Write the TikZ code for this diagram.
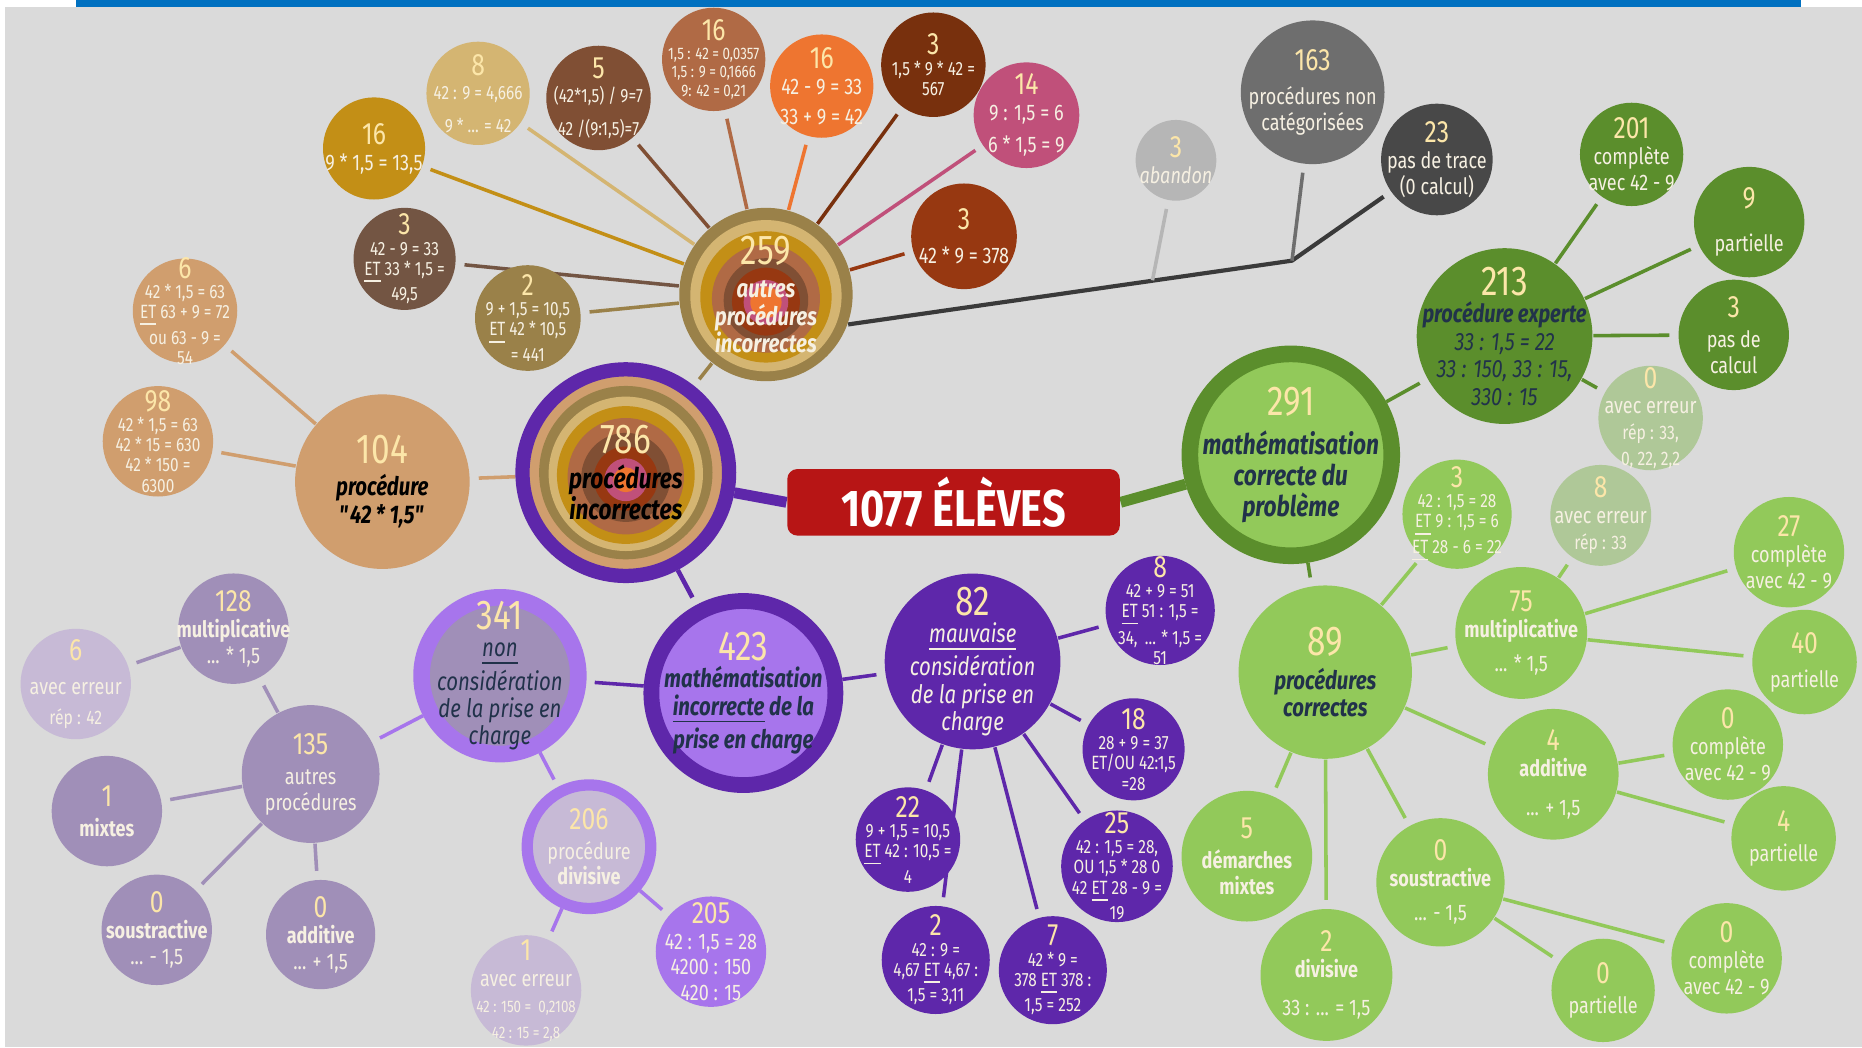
\documentclass[tikz,border=0pt]{standalone}
\usepackage{fontspec}
\setmainfont{Fira Sans}[FakeStretch=0.8]
\usetikzlibrary{backgrounds}

\definecolor{bgc}{HTML}{DADADA}
\definecolor{barc}{HTML}{0070C0}
\definecolor{nbc}{HTML}{FCE6A9}
\definecolor{txc}{HTML}{F6F0E2}
\definecolor{navy}{HTML}{21324A}
\definecolor{pgold}{HTML}{C38F16}
\definecolor{plt}{HTML}{D4B572}
\definecolor{pbr5}{HTML}{804F34}
\definecolor{pbrB}{HTML}{B06A45}
\definecolor{porange}{HTML}{EE7530}
\definecolor{pdrust}{HTML}{78300D}
\definecolor{ppink}{HTML}{C0507A}
\definecolor{prust}{HTML}{973811}
\definecolor{pgb}{HTML}{735543}
\definecolor{polive}{HTML}{9A8149}
\definecolor{ptan}{HTML}{D09E6E}
\definecolor{redbox}{HTML}{B71515}
\definecolor{gdark}{HTML}{5B8E2C}
\definecolor{glight}{HTML}{92C95A}
\definecolor{gpale}{HTML}{AFC898}
\definecolor{pudark}{HTML}{5E27AA}
\definecolor{pulight}{HTML}{A775EC}
\definecolor{pugrey}{HTML}{A08FB8}
\definecolor{pupale}{HTML}{C7BAD6}
\definecolor{g163}{HTML}{6E6E6E}
\definecolor{g23}{HTML}{484848}
\definecolor{gab}{HTML}{B6B6B6}
\definecolor{gline}{HTML}{3A3A3A}

\newcommand\nbig[1]{{\normalfont\color{nbc}\fontsize{10}{11}\selectfont #1}}
\newcommand\nsm[1]{{\normalfont\color{nbc}\fontsize{7.4}{8}\selectfont #1}}
\newcommand\smr{\fontsize{4.7}{5.1}\selectfont}
\newcommand\tnr{\fontsize{4}{4.5}\selectfont}

\tikzset{
  bub/.style 2 args={circle,fill=#1,minimum size=#2,inner sep=0pt},
  txt/.style 2 args={label={[align=center,text=txc,inner sep=0pt,fill=none,draw=none,#1]center:{#2}}},
  rings/.style={path picture={\foreach \rad/\col/\dy in {#1}
      {\fill[\col] ([yshift=-\dy]path picture bounding box.center) circle (\rad);}}},
  box/.style={rectangle,rounded corners=2.4pt,fill=redbox,minimum width=28mm,
      minimum height=5.6mm,inner sep=0pt,text=white,font=\bfseries\fontsize{12.4}{12.4}\selectfont},
  link/.style={draw=#1,line width=0.85pt,shorten >=2pt},
  fat/.style={draw=#1,line width=2.6pt},
  ta/.style={font=\fontsize{5.4}{6.2}\selectfont},
  tb/.style={font=\fontsize{4.6}{4.85}\selectfont},
  tc/.style={font=\fontsize{4}{4.4}\selectfont},
  labA/.style={font=\bfseries\itshape\fontsize{6.8}{7.4}\selectfont},
  labB/.style={font=\bfseries\itshape\fontsize{6.1}{6.6}\selectfont},
  labI/.style={font=\itshape\fontsize{6.1}{6.5}\selectfont},
  labE/.style={font=\itshape\fontsize{6}{6.6}\selectfont}
}

\begin{document}
\begin{tikzpicture}[x=0.1mm,y=-0.1mm]
  % — cadre
  \begin{scope}[on background layer]
    \fill[white] (0,0) rectangle (1568,882);
    \fill[bgc]   (4,6) rectangle (1568,882);
    \fill[barc]  (64,0) rectangle (1517,5.5);
  \end{scope}
  \useasboundingbox (0,0) rectangle (1568,882);

  % — centre
  \node[box] (tot) at (803,423) {1077 ÉLÈVES};

  % — procédures incorrectes
  \node[bub={ptan}{17.4mm},draw=pudark,line width=1.2mm,
        rings={7.3mm/polive/0mm, 6.5mm/plt/0.1mm, 5.8mm/pgold/0.2mm, 4.9mm/pbrB/0.3mm,
               3.75mm/pbr5/0.4mm, 2.7mm/prust/0.5mm, 1.8mm/ppink/0.6mm, 1.05mm/porange/0.6mm},
        txt={labA,text=black}{\nbig{786}\\[1pt]procédures\\incorrectes}] (inc) at (527,398) {};
  \node[bub={polive}{14.6mm},
        rings={6.37mm/plt/0.1mm, 5.53mm/pgold/0.2mm, 4.55mm/pbrB/0.35mm, 3.56mm/pbr5/0.5mm,
               2.86mm/prust/0.6mm, 1.88mm/ppink/0.65mm, 1.32mm/porange/0.65mm},
        txt={labB}{\nbig{259}\\[1.5pt]autres\\procédures\\incorrectes}] (aut) at (645,248) {};

  % — autres procédures incorrectes : détail
  \node[bub={pgold}{8.6mm},txt={ta}{\nsm{16}\\9 * 1,5 = 13,5}]                  (m16a) at (315,125)     {};
  \node[bub={plt}{8.7mm},txt={tb}{\nsm{8}\\[1pt]42 : 9 = 4,666\\[3pt]9 * ... = 42}] (m8) at (402.6,78.6) {};
  \node[bub={pbr5}{8.8mm},txt={tb}{\nsm{5}\\[1pt](42*1,5) / 9=7\\[3pt]42 /(9:1,5)=7}] (m5) at (504,82.5) {};
  \node[bub={pbrB}{8.7mm},txt={tc}{\nsm{16}\\1,5 : 42 = 0,0357\\1,5 : 9 = 0,1666\\9: 42 = 0,21}] (m16b) at (601,50) {};
  \node[bub={porange}{8.7mm},txt={ta}{\nsm{16}\\42 - 9 = 33\\[1pt]33 + 9 = 42}]   (m16c) at (692,72.5)    {};
  \node[bub={pdrust}{8.8mm},txt={tb}{\nsm{3}\\1,5 * 9 * 42 =\\567}]             (m3a)  at (786,54.5)    {};
  \node[bub={ppink}{8.9mm},txt={ta}{\nsm{14}\\9 : 1,5 = 6\\[1.5pt]6 * 1,5 = 9}]  (m14)  at (864.4,97)    {};
  \node[bub={prust}{8.9mm},txt={ta}{\nsm{3}\\[2pt]42 * 9 = 378}]                (m3b)  at (811.8,199)   {};
  \node[bub={pgb}{8.6mm},txt={tb}{\nsm{3}\\42 - 9 = 33\\\underline{ET} 33 * 1,5 =\\49,5}] (m3c) at (340.7,218) {};
  \node[bub={polive}{8.9mm},txt={tb}{\nsm{2}\\9 + 1,5 = 10,5\\\underline{ET} 42 * 10,5\\= 441}] (m2) at (444.5,267.8) {};

  % — procédure "42 * 1,5"
  \node[bub={ptan}{14.7mm},txt={labB,text=black}{\nbig{104}\\[1pt]procédure\\\textquotedbl 42 * 1,5\textquotedbl}] (p104) at (322,405.6) {};
  \node[bub={ptan}{8.8mm},txt={tb}{\nsm{6}\\42 * 1,5 = 63\\\underline{ET} 63 + 9 = 72\\ou 63 - 9 =\\54}] (t6) at (155.8,261.7) {};
  \node[bub={ptan}{9.3mm},txt={tb}{\nsm{98}\\42 * 1,5 = 63\\42 * 15 = 630\\42 * 150 =\\6300}] (t98) at (133,371.6) {};

  % — procédures non catégorisées
  \node[bub={g163}{12.1mm},txt={ta}{\nsm{163}\\[2pt]procédures non\\catégorisées}] (g163) at (1105.4,77.7) {};
  \node[bub={g23}{9.4mm},txt={ta}{\nsm{23}\\pas de trace\\(0 calcul)}]              (g23)  at (1210,134.3)  {};
  \node[bub={gab}{6.8mm},txt={ta}{\nsm{3}\\\textit{abandon}}]                       (g3)   at (990.3,135)   {};
  \coordinate (joint) at (1088,219.5);
  \coordinate (abj)   at (970.5,236);

  % — mathématisation correcte
  \node[bub={glight}{17mm},draw=gdark,line width=1.4mm,
        txt={labA,text=navy}{\nbig{291}\\[2pt]mathématisation\\correcte du\\problème}] (cor) at (1087,383) {};
  \node[bub={gdark}{14.8mm},
        txt={labE,text=navy}{\nbig{213}\\\textbf{procédure experte}\\33 : 1,5 = 22\\33 : 150, 33 : 15,\\330 : 15}] (expt) at (1267,283) {};
  \node[bub={gdark}{8.7mm},txt={ta}{\nsm{201}\\complète\\avec 42 - 9}]           (c201) at (1374,130)    {};
  \node[bub={gdark}{9.3mm},txt={ta}{\nsm{9}\\[4pt]partielle}]                    (c9)   at (1473,187)    {};
  \node[bub={gdark}{9.3mm},txt={ta}{\nsm{3}\\[1pt]pas de\\calcul}]               (c3)   at (1460,282)    {};
  \node[bub={gpale}{8.8mm},txt={ta}{\nsm{0}\\avec erreur\\{\smr rép : 33,}\\{\smr 0, 22, 2,2}}] (c0e) at (1390,352) {};
  \node[bub={glight}{14.6mm},txt={labB,text=navy}{\nbig{89}\\[1.5pt]procédures\\correctes}] (c89) at (1116,566) {};
  \node[bub={glight}{9.2mm},txt={tb}{\nsm{3}\\42 : 1,5 = 28\\\underline{ET} 9 : 1,5 = 6\\\underline{ET} 28 - 6 = 22}] (c3b) at (1227,433) {};
  \node[bub={gpale}{8.5mm},txt={ta}{\nsm{8}\\avec erreur\\{\smr rép : 33}}]    (c8e)  at (1348,434)    {};
  \node[bub={glight}{11.1mm},txt={ta}{\nsm{75}\\\textbf{multiplicative}\\[2pt]... * 1,5}] (c75) at (1281,533) {};
  \node[bub={glight}{9.3mm},txt={ta}{\nsm{27}\\complète\\avec 42 - 9}]          (c27)  at (1506.5,465)  {};
  \node[bub={glight}{8.8mm},txt={ta}{\nsm{40}\\[2pt]partielle}]                  (c40)  at (1519.6,557.5) {};
  \node[bub={glight}{11mm},txt={ta}{\nsm{4}\\\textbf{additive}\\[3pt]... + 1,5}] (c4a)  at (1308,652)    {};
  \node[bub={glight}{9.3mm},txt={ta}{\nsm{0}\\complète\\avec 42 - 9}]           (c0c)  at (1455,627)    {};
  \node[bub={glight}{8.8mm},txt={ta}{\nsm{4}\\[1pt]partielle}]                   (c4p)  at (1502,706)    {};
  \node[bub={glight}{11mm},txt={ta}{\nsm{5}\\[1pt]\textbf{démarches}\\\textbf{mixtes}}] (c5m) at (1050,721) {};
  \node[bub={glight}{11.1mm},txt={ta}{\nsm{2}\\\textbf{divisive}\\[3pt]33 : ... = 1,5}] (c2d) at (1117,821) {};
  \node[bub={glight}{10.8mm},txt={ta}{\nsm{0}\\\textbf{soustractive}\\[2pt]... - 1,5}] (c0s) at (1213,743) {};
  \node[bub={glight}{8.7mm},txt={ta}{\nsm{0}\\[1pt]partielle}]                   (c0p)  at (1350,834)    {};
  \node[bub={glight}{9.3mm},txt={ta}{\nsm{0}\\complète\\avec 42 - 9}]           (c0c2) at (1454,807)    {};

  % — mathématisation incorrecte
  \node[bub={pulight}{15.5mm},draw=pudark,line width=1.33mm,
        txt={labB,text=navy}{\nbig{423}\\mathématisation\\\underline{incorrecte} de la\\prise en charge}] (mis) at (626,583.6) {};
  \node[bub={pudark}{14.8mm},txt={labI}{\nbig{82}\\\underline{mauvaise}\\considération\\de la prise en\\charge}] (mau) at (819,557) {};
  \node[bub={pudark}{9.2mm},txt={tb}{\nsm{8}\\42 + 9 = 51\\\underline{ET} 51 : 1,5 =\\34, \,... * 1,5 =\\51}] (q8) at (977,514) {};
  \node[bub={pudark}{8.6mm},txt={tb}{\nsm{18}\\28 + 9 = 37\\ET/OU 42:1,5\\=28}]  (q18) at (954.6,631)   {};
  \node[bub={pudark}{9.4mm},txt={tb}{\nsm{25}\\42 : 1,5 = 28,\\OU 1,5 * 28 0\\42 \underline{ET} 28 - 9 =\\19}] (q25) at (940.6,729.5) {};
  \node[bub={pudark}{9.1mm},txt={tb}{\nsm{7}\\42 * 9 =\\378 \underline{ET} 378 :\\1,5 = 252}] (q7) at (886.6,817) {};
  \node[bub={pudark}{9.1mm},txt={tb}{\nsm{2}\\42 : 9 =\\4,67 \underline{ET} 4,67 :\\1,5 = 3,11}] (q2) at (788,808.4) {};
  \node[bub={pudark}{8.8mm},txt={tb}{\nsm{22}\\9 + 1,5 = 10,5\\\underline{ET} 42 : 10,5 =\\4}] (q22) at (764.6,707) {};

  % — non considération de la prise en charge
  \node[bub={pugrey}{13.2mm},draw=pulight,line width=1.4mm,
        txt={labI,text=navy}{\nbig{341}\\\underline{non}\\considération\\de la prise en\\charge}] (non) at (421,569) {};
  \node[bub={pupale}{10.4mm},draw=pulight,line width=0.95mm,
        txt={ta}{\nsm{206}\\[1pt]procédure\\\textbf{divisive}}] (div) at (496,713) {};
  \node[bub={pulight}{9.3mm},txt={ta}{\nsm{205}\\42 : 1,5 = 28\\4200 : 150\\420 : 15}] (q205) at (598.7,801.4) {};
  \node[bub={pupale}{9.3mm},txt={ta}{\nsm{1}\\avec erreur\\{\tnr 42 : 150 = \ 0,2108}\\{\tnr 42 : 15 = 2,8}}] (q1e) at (443,834) {};
  \node[bub={pugrey}{11.6mm},txt={ta}{\nsm{135}\\[1pt]autres\\procédures}]      (q135) at (261.6,651.8) {};
  \node[bub={pugrey}{9.3mm},txt={ta}{\nsm{128}\\\textbf{multiplicative}\\... * 1,5}] (q128) at (196.6,529.4) {};
  \node[bub={pupale}{9.3mm},txt={ta}{\nsm{6}\\[2pt]avec erreur\\[1pt]{\smr rép : 42}}] (q6) at (63.8,576) {};
  \node[bub={pugrey}{9.3mm},txt={ta}{\nsm{1}\\[1pt]\textbf{mixtes}}]             (q1m)  at (90,683)      {};
  \node[bub={pugrey}{9.3mm},txt={ta}{\nsm{0}\\\textbf{soustractive}\\... - 1,5}] (q0s) at (132,783)      {};
  \node[bub={pugrey}{9.2mm},txt={ta}{\nsm{0}\\\textbf{additive}\\... + 1,5}]    (q0a)  at (270,787)      {};

  % — liens
  \begin{scope}[on background layer]
    \draw[link=pgold]   (aut) -- (m16a);
    \draw[link=plt]     (aut) -- (m8);
    \draw[link=pbr5]    (aut) -- (m5);
    \draw[link=pbrB]    (aut) -- (m16b);
    \draw[link=porange] (aut) -- (m16c);
    \draw[link=pdrust]  (aut) -- (m3a);
    \draw[link=ppink]   (aut) -- (m14);
    \draw[link=prust]   (aut) -- (m3b);
    \draw[link=pgb]     (aut) -- (m3c);
    \draw[link=polive]  (aut) -- (m2);
    \draw[link=polive]  (aut) -- (inc);
    \draw[link=ptan]    (inc) -- (p104);
    \draw[link=ptan]    (p104) -- (t6);
    \draw[link=ptan]    (p104) -- (t98);
    \draw[fat=pudark]   (inc) -- (tot.west);
    \draw[fat=gdark]    (tot.east) -- (cor);
    \draw[link=pudark,line width=1.1pt] (inc) -- (mis);
    % gris
    \draw[link=gline,line width=1pt] (aut.-20) -- (joint) -- (g23);
    \draw[link=g163]    (joint) -- (g163);
    \draw[draw=gab,line width=0.85pt,shorten <=2pt] (g3) -- (abj);
    % vert
    \draw[link=gdark]   (cor) -- (expt);
    \draw[link=gdark]   (expt) -- (c201);
    \draw[link=gdark]   (expt) -- (c9);
    \draw[link=gdark]   (expt) -- (c3);
    \draw[link=gdark]   (expt) -- (c0e);
    \draw[link=gdark]   (cor) -- (c89);
    \draw[link=glight]  (c89) -- (c3b);
    \draw[link=glight]  (c89) -- (c75);
    \draw[link=glight]  (c89) -- (c4a);
    \draw[link=glight]  (c89) -- (c5m);
    \draw[link=glight]  (c89) -- (c2d);
    \draw[link=glight]  (c89) -- (c0s);
    \draw[link=glight]  (c75) -- (c8e);
    \draw[link=glight]  (c75) -- (c27);
    \draw[link=glight]  (c75) -- (c40);
    \draw[link=glight]  (c4a) -- (c0c);
    \draw[link=glight]  (c4a) -- (c4p);
    \draw[link=glight]  (c0s) -- (c0p);
    \draw[link=glight]  (c0s) -- (c0c2);
    % violet
    \draw[link=pudark]  (mis) -- (mau);
    \draw[link=pudark]  (mis) -- (non);
    \draw[link=pudark]  (mau) -- (q8);
    \draw[link=pudark]  (mau) -- (q18);
    \draw[link=pudark]  (mau) -- (q25);
    \draw[link=pudark]  (mau) -- (q7);
    \draw[link=pudark]  (mau) -- (q2);
    \draw[link=pudark]  (mau) -- (q22);
    \draw[link=pulight] (non) -- (q135);
    \draw[link=pulight] (non) -- (div);
    \draw[link=pulight] (div) -- (q205);
    \draw[link=pulight] (div) -- (q1e);
    \draw[link=pugrey]  (q135) -- (q128);
    \draw[link=pugrey]  (q135) -- (q1m);
    \draw[link=pugrey]  (q135) -- (q0s);
    \draw[link=pugrey]  (q135) -- (q0a);
    \draw[link=pugrey]  (q128) -- (q6);
  \end{scope}
\end{tikzpicture}
\end{document}
